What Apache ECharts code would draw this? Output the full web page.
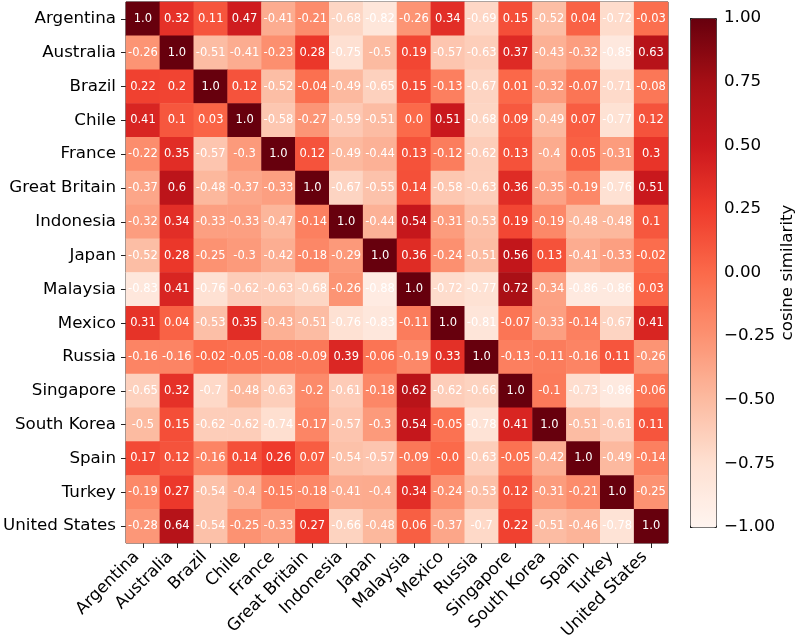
<!DOCTYPE html>
<html><head><meta charset="utf-8">
<script src="https://cdn.jsdelivr.net/npm/echarts@6/dist/echarts.min.js"></script>
<style>html,body{margin:0;padding:0;background:#fff}#c{width:800px;height:644px}</style>
</head><body><div id="c"></div>
<script>
const countries = ['Argentina','Australia','Brazil','Chile','France','Great Britain','Indonesia','Japan','Malaysia','Mexico','Russia','Singapore','South Korea','Spain','Turkey','United States'];

const simArgentina    = [1.0, 0.32, 0.11, 0.47, -0.41, -0.21, -0.68, -0.82, -0.26, 0.34, -0.69, 0.15, -0.52, 0.04, -0.72, -0.03];
const simAustralia    = [-0.26, 1.0, -0.51, -0.41, -0.23, 0.28, -0.75, -0.5, 0.19, -0.57, -0.63, 0.37, -0.43, -0.32, -0.85, 0.63];
const simBrazil       = [0.22, 0.2, 1.0, 0.12, -0.52, -0.04, -0.49, -0.65, 0.15, -0.13, -0.67, 0.01, -0.32, -0.07, -0.71, -0.08];
const simChile        = [0.41, 0.1, 0.03, 1.0, -0.58, -0.27, -0.59, -0.51, 0.0, 0.51, -0.68, 0.09, -0.49, 0.07, -0.77, 0.12];
const simFrance       = [-0.22, 0.35, -0.57, -0.3, 1.0, 0.12, -0.49, -0.44, 0.13, -0.12, -0.62, 0.13, -0.4, 0.05, -0.31, 0.3];
const simGreatBritain = [-0.37, 0.6, -0.48, -0.37, -0.33, 1.0, -0.67, -0.55, 0.14, -0.58, -0.63, 0.36, -0.35, -0.19, -0.76, 0.51];
const simIndonesia    = [-0.32, 0.34, -0.33, -0.33, -0.47, -0.14, 1.0, -0.44, 0.54, -0.31, -0.53, 0.19, -0.19, -0.48, -0.48, 0.1];
const simJapan        = [-0.52, 0.28, -0.25, -0.3, -0.42, -0.18, -0.29, 1.0, 0.36, -0.24, -0.51, 0.56, 0.13, -0.41, -0.33, -0.02];
const simMalaysia     = [-0.83, 0.41, -0.76, -0.62, -0.63, -0.68, -0.26, -0.88, 1.0, -0.72, -0.77, 0.72, -0.34, -0.86, -0.86, 0.03];
const simMexico       = [0.31, 0.04, -0.53, 0.35, -0.43, -0.51, -0.76, -0.83, -0.11, 1.0, -0.81, -0.07, -0.33, -0.14, -0.67, 0.41];
const simRussia       = [-0.16, -0.16, -0.02, -0.05, -0.08, -0.09, 0.39, -0.06, -0.19, 0.33, 1.0, -0.13, -0.11, -0.16, 0.11, -0.26];
const simSingapore    = [-0.65, 0.32, -0.7, -0.48, -0.63, -0.2, -0.61, -0.18, 0.62, -0.62, -0.66, 1.0, -0.1, -0.73, -0.86, -0.06];
const simSouthKorea   = [-0.5, 0.15, -0.62, -0.62, -0.74, -0.17, -0.57, -0.3, 0.54, -0.05, -0.78, 0.41, 1.0, -0.51, -0.61, 0.11];
const simSpain        = [0.17, 0.12, -0.16, 0.14, 0.26, 0.07, -0.54, -0.57, -0.09, -0.0, -0.63, -0.05, -0.42, 1.0, -0.49, -0.14];
const simTurkey       = [-0.19, 0.27, -0.54, -0.4, -0.15, -0.18, -0.41, -0.4, 0.34, -0.24, -0.53, 0.12, -0.31, -0.21, 1.0, -0.25];
const simUnitedStates = [-0.28, 0.64, -0.54, -0.25, -0.33, 0.27, -0.66, -0.48, 0.06, -0.37, -0.7, 0.22, -0.51, -0.46, -0.78, 1.0];

const simRows = [simArgentina, simAustralia, simBrazil, simChile, simFrance, simGreatBritain, simIndonesia, simJapan,
  simMalaysia, simMexico, simRussia, simSingapore, simSouthKorea, simSpain, simTurkey, simUnitedStates];

const colorbarMin = -1, colorbarMax = 1, colorbarStep = 0.25;
const redsPalette = ['#fff5f0','#fee0d2','#fcbba1','#fc9272','#fb6a4a','#ef3b2c','#cb181d','#a50f15','#67000d'];

const cells = [];
simRows.forEach((row, r) => row.forEach((v, c) => cells.push([c, r, v])));

function pyStr(v) {
  if (Object.is(v, -0)) return '-0.0';
  let s = String(v);
  if (s.indexOf('.') < 0) s += '.0';
  return s;
}

const FONT = 'DejaVu Sans';
const INK = '#222';
const AXFS = 16.7;
const chart = echarts.init(document.getElementById('c'), null, {renderer: 'canvas'});
chart.setOption({
  backgroundColor: '#fff',
  animation: false,
  textStyle: {fontFamily: FONT},
  grid: [
    {left: 124, top: 2, width: 544, height: 541, show: true, borderColor: INK, borderWidth: 1, backgroundColor: 'transparent'},
    {left: 690, top: 18, width: 26, height: 509, show: false}
  ],
  xAxis: [
    {type: 'category', gridIndex: 0, data: countries, position: 'bottom',
     axisLine: {show: false}, axisTick: {show: true, alignWithLabel: true, length: 5, lineStyle: {color: INK}},
     axisLabel: {rotate: 45, fontSize: AXFS, color: '#000', fontFamily: FONT, margin: 5, interval: 0, padding: [0, 9, 0, 0]},
     splitLine: {show: false}},
    {type: 'value', gridIndex: 1, min: 0, max: 1, show: false}
  ],
  yAxis: [
    {type: 'category', gridIndex: 0, data: countries, inverse: true,
     axisLine: {show: false}, axisTick: {show: true, alignWithLabel: true, length: 5, lineStyle: {color: INK}},
     axisLabel: {fontSize: AXFS, color: '#000', fontFamily: FONT, margin: 10, interval: 0},
     splitLine: {show: false}},
    {type: 'value', gridIndex: 1, position: 'right', min: colorbarMin, max: colorbarMax, interval: colorbarStep,
     axisLine: {show: false}, axisTick: {show: true, length: 5, lineStyle: {color: INK}},
     axisLabel: {fontSize: AXFS, color: '#000', fontFamily: FONT, margin: 8,
       formatter: v => (v < 0 ? '\u2212' : '') + Math.abs(v).toFixed(2)},
     splitLine: {show: false},
     name: 'cosine similarity', nameLocation: 'middle', nameRotate: 90, nameGap: 62,
     nameTextStyle: {fontSize: AXFS, color: '#000', fontFamily: FONT}}
  ],
  visualMap: {
    type: 'continuous', seriesIndex: 0, min: colorbarMin, max: colorbarMax,
    calculable: false, orient: 'vertical', left: 690, top: 18, itemWidth: 26, itemHeight: 509,
    padding: 0, text: null, showLabel: false, borderColor: INK, borderWidth: 1,
    inRange: {color: redsPalette}
  },
  series: [
    {type: 'heatmap', xAxisIndex: 0, yAxisIndex: 0, data: cells,
     label: {show: true, color: '#fff', fontSize: 11.5, fontFamily: FONT, formatter: p => pyStr(p.value[2])},
     itemStyle: {borderWidth: 0}, emphasis: {disabled: true}},
    {type: 'scatter', xAxisIndex: 1, yAxisIndex: 1, data: [], silent: true}
  ]
});
</script></body></html>
